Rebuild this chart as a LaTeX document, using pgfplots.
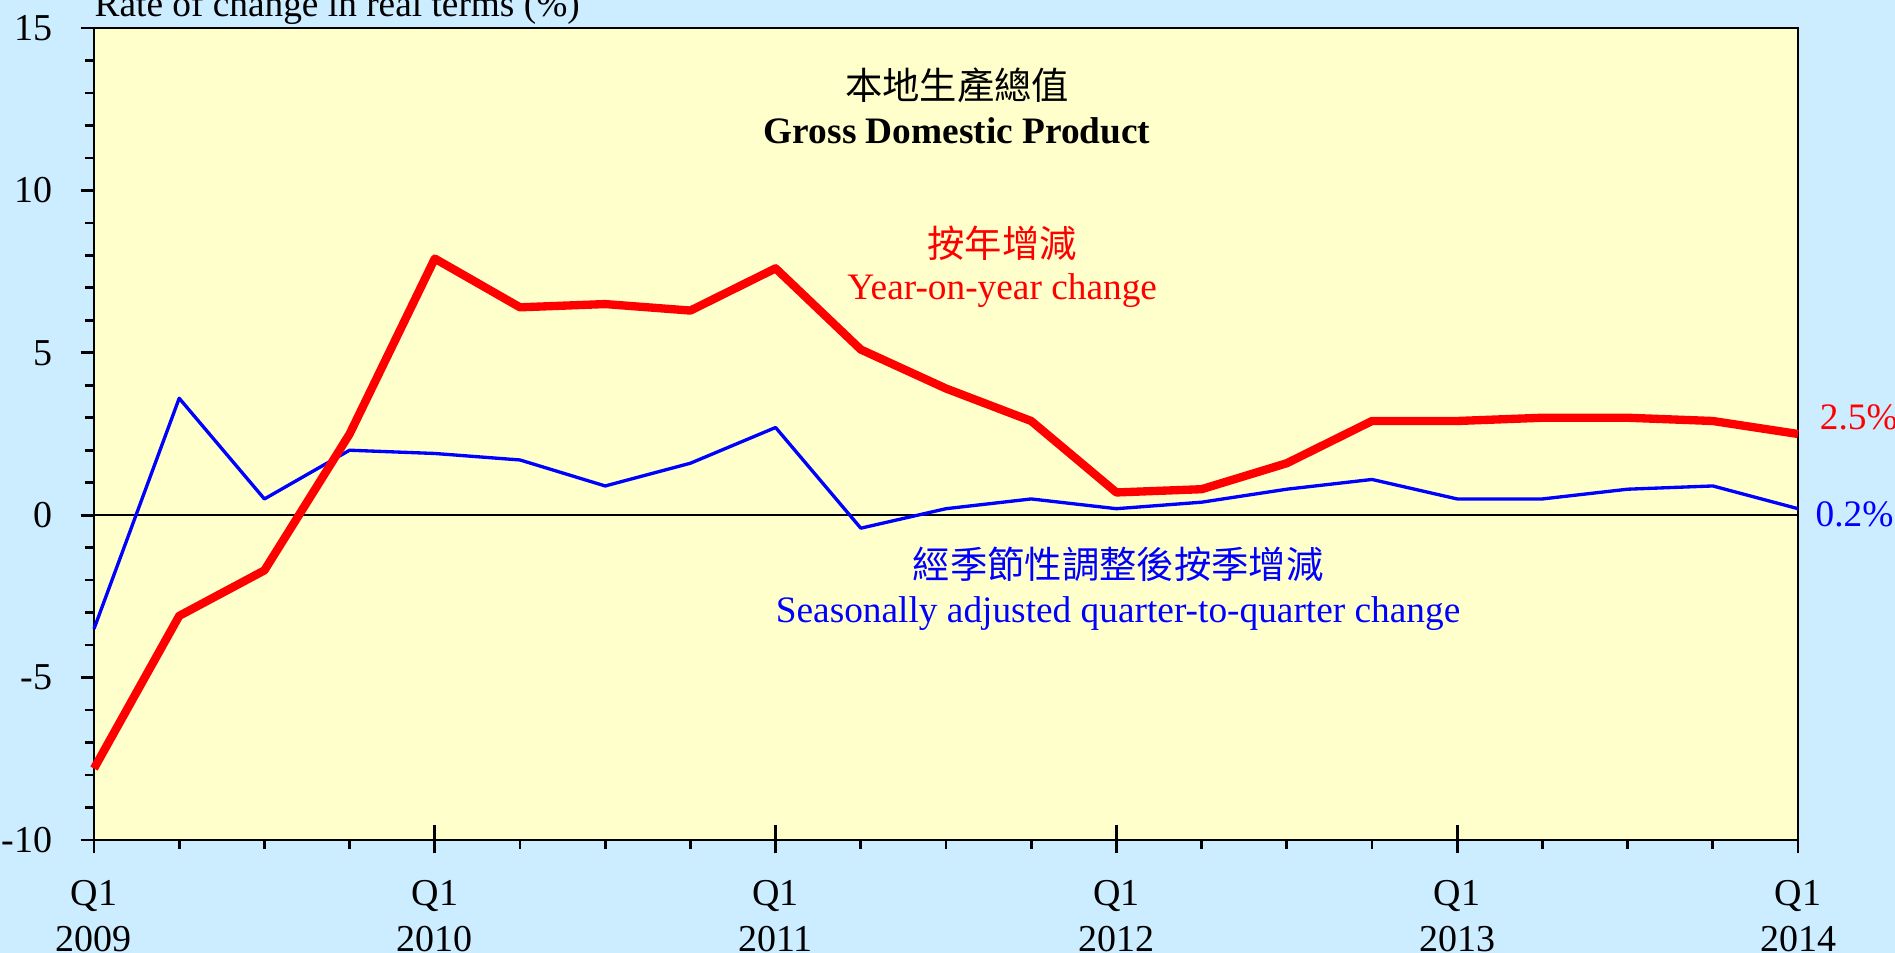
\documentclass[border=0pt]{standalone}
\usepackage{pgfplots}
\pgfplotsset{compat=1.18}
\usepackage{fontspec}
\setmainfont{Liberation Serif}
\newfontfamily\cjk{Noto Sans CJK TC}
\definecolor{bgblue}{HTML}{CCECFF}
\definecolor{plotyellow}{HTML}{FFFFCC}
\begin{document}
\begin{tikzpicture}[font=\fontsize{11.2}{13.8}\selectfont]
\fill[bgblue] (0,0) rectangle (568.5pt,285.9pt);
\begin{axis}[
  at={(28.2pt,33.9pt)}, anchor=south west,
  scale only axis, width=511.2pt, height=243.6pt,
  xmin=0, xmax=20, ymin=-10, ymax=15,
  clip=false,
  axis background/.style={fill=plotyellow},
  axis line style={line width=0.8pt},
  xtick={0,4,8,12,16,20},
  xticklabels={Q1\\2009,Q1\\2010,Q1\\2011,Q1\\2012,Q1\\2013,Q1\\2014},
  minor xtick={1,2,3,5,6,7,9,10,11,13,14,15,17,18,19},
  ytick={-10,-5,0,5,10,15},
  yticklabels={-10,-5,0,5,10,15},
  minor ytick={-9,-8,-7,-6,-4,-3,-2,-1,1,2,3,4,6,7,8,9,11,12,13,14},
  xtick pos=left, ytick pos=left,
  tick align=outside,
  major tick length=4pt, minor tick length=2.7pt,
  tick style={black, line width=0.8pt},
  extra x ticks={0,4,8,12,16,20},
  extra x tick labels={},
  extra x tick style={tick align=inside, major tick length=4.5pt},
  xticklabel style={align=center, anchor=center, yshift=-18.7pt, font=\fontsize{11.4}{13.8}\selectfont},
  yticklabel style={anchor=east, xshift=-5pt, font=\fontsize{11.4}{13.8}\selectfont},
]
\addplot[black, line width=0.6pt, forget plot] coordinates {(0,0) (20,0)};
\addplot[blue, line width=1pt, line join=round] coordinates {
(0,-3.5) (1,3.6) (2,0.5) (3,2.0) (4,1.9) (5,1.7) (6,0.9) (7,1.6) (8,2.7) (9,-0.4)
(10,0.2) (11,0.5) (12,0.2) (13,0.4) (14,0.8) (15,1.1) (16,0.5) (17,0.5) (18,0.8) (19,0.9) (20,0.2)};
\addplot[red, line width=2.5pt, line join=round] coordinates {
(0,-7.8) (1,-3.1) (2,-1.7) (3,2.5) (4,7.9) (5,6.4) (6,6.5) (7,6.3) (8,7.6) (9,5.1)
(10,3.9) (11,2.9) (12,0.7) (13,0.8) (14,1.6) (15,2.9) (16,2.9) (17,3.0) (18,3.0) (19,2.9) (20,2.5)};
\node[anchor=base west, inner sep=0pt] at ([yshift=3.3pt]rel axis cs:0,1) {Rate of change in real terms (\%)};
\node at (axis cs:10.13,13.24) {\cjk 本地生產總值};
\node at (axis cs:10.13,11.83) {\bfseries Gross Domestic Product};
\node[red] at (axis cs:10.66,8.38) {\cjk 按年增減};
\node[red] at (axis cs:10.66,6.93) {Year-on-year change};
\node[blue] at (axis cs:12.02,-1.50) {\cjk 經季節性調整後按季增減};
\node[blue] at (axis cs:12.02,-3.04) {Seasonally adjusted quarter-to-quarter change};
\node[red, anchor=west, inner sep=0pt] at (axis cs:20.25,3.02) {2.5\%};
\node[blue, anchor=west, inner sep=0pt] at (axis cs:20.2,0.04) {0.2\%};
\end{axis}
\pgfresetboundingbox
\useasboundingbox (0,0) rectangle (568.5pt,285.9pt);
\end{tikzpicture}
\end{document}
